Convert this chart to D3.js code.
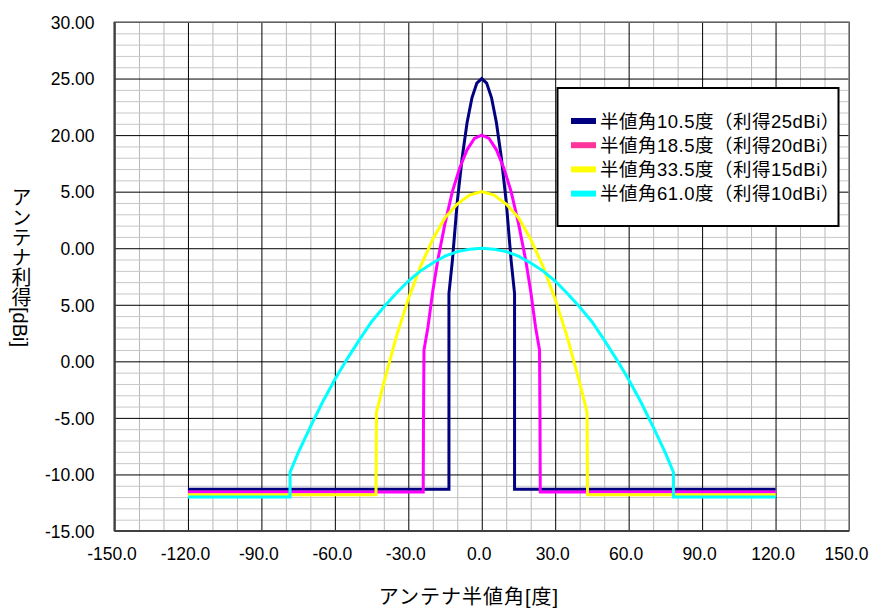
<!DOCTYPE html>
<html><head><meta charset="utf-8">
<script src="https://cdn.jsdelivr.net/npm/d3@7/dist/d3.min.js"></script>
<style>
body{margin:0;background:#fff;}
svg{display:block;}
text{font-family:"Liberation Sans","Noto Sans CJK JP",sans-serif;fill:#000;}
</style></head><body>
<svg id="c" width="871" height="608"></svg>
<script>
// ---- data ----
const xTicks = [-150,-120,-90,-60,-30,0,30,60,90,120,150];
const xTickLabels = ["-150.0","-120.0","-90.0","-60.0","-30.0","0.0","30.0","60.0","90.0","120.0","150.0"];
const yTicks = [30,25,20,15,10,5,0,-5,-10,-15];
const yTickLabels = ["30.00","25.00","20.00","5.00","0.00","5.00","0.00","-5.00","-10.00","-15.00"];
const xTitle = "アンテナ半値角[度]";
const yTitle = "アンテナ利得[dBi]";
const seriesNames = ["半値角10.5度（利得25dBi）","半値角18.5度（利得20dBi）","半値角33.5度（利得15dBi）","半値角61.0度（利得10dBi）"];

const blueAngles = [-120,-13.4,-13.4,-12,-10,-8,-6,-4,-2,0,2,4,6,8,10,12,13.4,13.4,120];
const blueGains  = [-11.3,-11.3,6.0,8.9,14.1,18.0,21.1,23.3,24.6,25.0,24.6,23.3,21.1,18.0,14.1,8.9,6.0,-11.3,-11.3];

const pinkAngles = [-120,-23.9,-23.8,-23.6,-22,-20,-18,-15,-12,-9,-6,-3,0,3,6,9,12,15,18,20,22,23.6,23.8,23.9,120];
const pinkGains  = [-11.55,-11.55,-5.5,1.0,3.0,6.2,8.9,12.2,15.0,17.1,18.7,19.7,20.0,19.7,18.7,17.1,15.0,12.2,8.9,6.2,3.0,1.0,-5.5,-11.55,-11.55];

const yellowAngles = [-120,-43.2,-43.0,-40,-35,-30,-25,-20,-15,-10,-5,0,5,10,15,20,25,30,35,40,43.0,43.2,120];
const yellowGains  = [-11.8,-11.8,-4.5,-1.9,2.1,5.5,8.4,10.8,12.7,13.9,14.7,15.0,14.7,13.9,12.7,10.8,8.4,5.5,2.1,-1.9,-4.5,-11.8,-11.8];

const cyanAngles = [-120,-78.3,-78.3,-75,-70,-65,-60,-55,-50,-45,-40,-35,-30,-25,-20,-15,-10,-5,0,5,10,15,20,25,30,35,40,45,50,55,60,65,70,75,78.3,78.3,120];
const cyanGains  = [-12.0,-12.0,-9.8,-8.1,-5.8,-3.6,-1.6,0.2,1.9,3.5,4.8,6.0,7.1,8.0,8.7,9.3,9.7,9.9,10.0,9.9,9.7,9.3,8.7,8.0,7.1,6.0,4.8,3.5,1.9,0.2,-1.6,-3.6,-5.8,-8.1,-9.8,-12.0,-12.0];

const lineColors = ["#000080","#ff00ff","#ffff00","#00ffff"];
const legendColors = ["#000080","#ff3399","#ffff00","#00ffff"];

// ---- layout ----
const svg = d3.select("#c");
const L = 114.5, R = 849, T = 22, B = 531;
const x = d3.scaleLinear().domain([-150,150]).range([L,R]);
const y = d3.scaleLinear().domain([-15,30]).range([B,T]);

// minor grid
const xMinor = d3.range(-150,151,10).filter(v => v % 30 !== 0);
const yMinor = d3.range(-15,31,1).filter(v => v % 5 !== 0);
const g = svg.append("g");
g.append("g").attr("transform",`translate(0,${B})`)
  .call(d3.axisBottom(x).tickValues(xMinor).tickSize(-(B-T)).tickFormat(""))
  .call(s=>{s.select(".domain").remove();s.selectAll("line").attr("stroke","#b8b8b8");});
g.append("g").attr("transform",`translate(${L},0)`)
  .call(d3.axisLeft(y).tickValues(yMinor).tickSize(-(R-L)).tickFormat(""))
  .call(s=>{s.select(".domain").remove();s.selectAll("line").attr("stroke","#c8c8c8");});
// major grid
g.append("g").attr("transform",`translate(0,${B})`)
  .call(d3.axisBottom(x).tickValues(xTicks).tickSize(-(B-T)).tickFormat(""))
  .call(s=>{s.select(".domain").remove();s.selectAll("line").attr("stroke","#000");});
g.append("g").attr("transform",`translate(${L},0)`)
  .call(d3.axisLeft(y).tickValues(yTicks).tickSize(-(R-L)).tickFormat(""))
  .call(s=>{s.select(".domain").remove();s.selectAll("line").attr("stroke","#000");});

// frame
svg.append("rect").attr("x",L).attr("y",T).attr("width",R-L).attr("height",B-T)
  .attr("fill","none").attr("stroke","#808080").attr("stroke-width",1.5);
svg.append("line").attr("x1",L).attr("x2",L).attr("y1",T).attr("y2",B).attr("stroke","#404040").attr("stroke-width",2);
svg.append("line").attr("x1",L).attr("x2",R).attr("y1",B).attr("y2",B).attr("stroke","#404040").attr("stroke-width",2);

// tick labels via axes
svg.append("g").attr("transform",`translate(${L-20},0)`)
  .call(d3.axisLeft(y).tickValues(yTicks).tickSize(0).tickFormat((d,i)=>yTickLabels[i]))
  .call(s=>{s.select(".domain").remove();s.selectAll("text").attr("font-size","17.5px").attr("x",0).attr("dy","0.36em")
    .style("font-family","'Liberation Sans',Arial,sans-serif");});
svg.append("g").attr("transform",`translate(-3,${B+29})`)
  .call(d3.axisBottom(x).tickValues(xTicks).tickSize(0).tickFormat((d,i)=>xTickLabels[i]))
  .call(s=>{s.select(".domain").remove();s.selectAll("text").attr("font-size","17.5px").attr("y",0).attr("dy",0)
    .style("font-family","'Liberation Sans',Arial,sans-serif");});

// titles
svg.append("text").attr("x",469).attr("y",604).attr("text-anchor","middle").attr("font-size","20px")
  .style("letter-spacing","1px").text(xTitle);
svg.append("text").attr("x",20).attr("y",267).attr("text-anchor","middle").attr("font-size","20px")
  .style("writing-mode","vertical-rl").style("text-orientation","mixed").text(yTitle);

// series
const series = [
  blueAngles.map((a,i)=>[a,blueGains[i]]),
  pinkAngles.map((a,i)=>[a,pinkGains[i]]),
  yellowAngles.map((a,i)=>[a,yellowGains[i]]),
  cyanAngles.map((a,i)=>[a,cyanGains[i]])
];
const line = d3.line().x(d=>x(d[0])).y(d=>y(d[1]));
svg.append("g").selectAll("path").data(series).join("path")
  .attr("d",line).attr("fill","none").attr("stroke",(d,i)=>lineColors[i])
  .attr("stroke-width",3).attr("stroke-linejoin","miter");

// legend
const lg = svg.append("g");
lg.append("rect").attr("x",557.5).attr("y",88).attr("width",281).attr("height",138)
  .attr("fill","#fff").attr("stroke","#000").attr("stroke-width",2);
const rows = lg.selectAll("g.row").data(seriesNames).join("g").attr("class","row")
  .attr("transform",(d,i)=>`translate(0,${121+i*24.2})`);
rows.append("line").attr("x1",571).attr("x2",596).attr("y1",0).attr("y2",0)
  .attr("stroke",(d,i)=>legendColors[i]).attr("stroke-width",6);
rows.append("text").attr("x",600).attr("y",0).attr("dy","0.36em").attr("font-size","18.5px")
  .style("letter-spacing","0.5px").text(d=>d);
</script>
</body></html>
